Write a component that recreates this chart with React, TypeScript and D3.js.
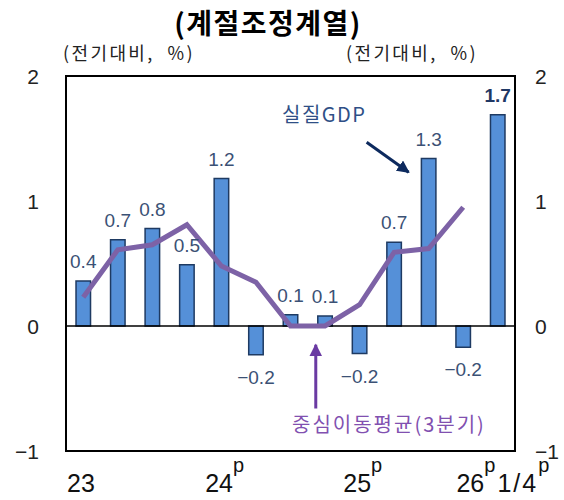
import React from "react";
import * as d3 from "d3";

const quarters = ["23Q1","23Q2","23Q3","23Q4","24Q1","24Q2","24Q3","24Q4","25Q1","25Q2","25Q3","25Q4","26Q1"];
const gdp = [0.36, 0.69, 0.78, 0.49, 1.18, -0.23, 0.09, 0.08, -0.22, 0.67, 1.34, -0.17, 1.69];
const gdpLabels = ["0.4","0.7","0.8","0.5","1.2","−0.2","0.1","0.1","−0.2","0.7","1.3","−0.2","1.7"];
const movingAvg = [0.23, 0.61, 0.65, 0.81, 0.48, 0.35, 0.0, 0.0, 0.17, 0.59, 0.62, 0.95];
const yTicks = [-1, 0, 1, 2];
const yTickLabels = ["−1", "0", "1", "2"];
const yearLabels = [
  { idx: 0, text: "23", sup: "" },
  { idx: 4, text: "24", sup: "p" },
  { idx: 8, text: "25", sup: "p" },
];
const lastParts = [{ text: "26", sup: "p" }, { text: "1/4", sup: "p" }];

const W = 564, H = 500;
const L = 66, R = 515, T = 76, B = 451;
const LATIN = "'Liberation Sans', Arial, 'Noto Sans CJK KR', sans-serif";
const KR = "'Noto Sans CJK KR', 'Liberation Sans', sans-serif";

export default function App() {
  const x = d3.scaleBand<string>().domain(quarters).range([L, R]).paddingInner(0.58).paddingOuter(0.29);
  const y = d3.scaleLinear().domain([-1, 2]).range([B, T]);
  const bw = x.bandwidth();
  const step = x.step();
  const cx = (i: number) => (x(quarters[i]) as number) + bw / 2;
  const line = d3.line<number>().x((_, i) => cx(i)).y((d) => y(d));

  const barFill = "#5590d8";
  const barStroke = "#1e3a62";
  const labelColor = "#3b5175";

  const gdpArrowStart = [cx(10) - 62, y(1.47)];
  const gdpArrowEnd = [cx(10) - 20, y(1.23)];
  const maArrowX = (cx(6) + cx(7)) / 2 + 8;
  const maArrowTip = y(-0.15);
  const maArrowTail = y(-0.66);

  return (
    <svg width={W} height={H} style={{ position: "absolute", left: 0, top: 0, background: "#fff" }}>
      <defs>
        <marker id="ah-navy" viewBox="0 0 10 10" refX="9" refY="5" markerWidth="4.2" markerHeight="4.2" orient="auto">
          <path d="M0,0 L10,5 L0,10 z" fill="#0d2a5e" />
        </marker>
        <marker id="ah-purple" viewBox="0 0 10 10" refX="9" refY="5" markerWidth="4.2" markerHeight="4.2" orient="auto">
          <path d="M0,0 L10,5 L0,10 z" fill="#6a3aa2" />
        </marker>
      </defs>

      <text x={268} y={34} textAnchor="middle" fontFamily={KR} fontWeight={700} fontSize={28} letterSpacing={1.5} fill="#000">
        (계절조정계열)
      </text>

      <text x={63} y={60} fontFamily={KR} fontSize={18} letterSpacing={2.4} fill="#222">{"(전기대비,\u00a0\u00a0%)"}</text>
      <text x={478} y={60} textAnchor="end" fontFamily={KR} fontSize={18} letterSpacing={2.4} fill="#222">{"(전기대비,\u00a0\u00a0%)"}</text>

      <rect x={L} y={T} width={R - L} height={B - T} fill="none" stroke="#000" strokeWidth={2} />

      {yTicks.map((t, i) => (
        <g key={t}>
          <text x={39} y={y(t)} dy="0.36em" textAnchor="end" fontFamily={LATIN} fontSize={21} fill="#222">{yTickLabels[i]}</text>
          <text x={535} y={y(t)} dy="0.36em" textAnchor="start" fontFamily={LATIN} fontSize={21} fill="#222">{yTickLabels[i]}</text>
        </g>
      ))}

      {gdp.map((v, i) => (
        <rect key={i} x={x(quarters[i])} y={y(Math.max(0, v))} width={bw} height={Math.abs(y(v) - y(0))}
          fill={barFill} stroke={barStroke} strokeWidth={1.5} />
      ))}

      <line x1={L} x2={R} y1={y(0)} y2={y(0)} stroke="#000" strokeWidth={1.6} />

      <path d={line(movingAvg) || ""} fill="none" stroke="#7d62a6" strokeWidth={5} strokeLinejoin="miter" />

      {gdp.map((v, i) => {
        const last = i === gdp.length - 1;
        return (
          <text key={i} x={cx(i)} y={v >= 0 ? y(v) - 13 : y(v) + 29} textAnchor="middle"
            fontFamily={LATIN} fontSize={19} fontWeight={last ? 700 : 400} fill={last ? "#1f3864" : labelColor}>
            {gdpLabels[i]}
          </text>
        );
      })}

      <text x={282} y={122} fontFamily={KR} fontSize={20} letterSpacing={1.5} fill="#2f4f86">실질GDP</text>
      <line x1={gdpArrowStart[0]} y1={gdpArrowStart[1]} x2={gdpArrowEnd[0]} y2={gdpArrowEnd[1]}
        stroke="#0d2a5e" strokeWidth={3} markerEnd="url(#ah-navy)" />

      <line x1={maArrowX} y1={maArrowTail} x2={maArrowX} y2={maArrowTip}
        stroke="#6a3aa2" strokeWidth={3} markerEnd="url(#ah-purple)" />
      <text x={292} y={432} fontFamily={KR} fontSize={20} letterSpacing={2} fill="#8150b0">중심이동평균(3분기)</text>

      {yearLabels.map((d) => (
        <text key={d.text} x={L + d.idx * step + 1} y={492} fontFamily={LATIN} fontSize={25} fill="#111">
          <tspan>{d.text}</tspan>
          {d.sup && <tspan dy={-20} fontSize={20}>{d.sup}</tspan>}
        </text>
      ))}
      <text x={L + 12 * step - 24} y={492} fontFamily={LATIN} fontSize={25} fill="#111">
        <tspan>{lastParts[0].text}</tspan>
        <tspan dy={-20} fontSize={20}>{lastParts[0].sup}</tspan>
      </text>
      <text x={L + 12 * step + 17} y={492} fontFamily={LATIN} fontSize={25} fill="#111">
        <tspan letterSpacing={2}>{lastParts[1].text}</tspan>
        <tspan dy={-20} fontSize={20}>{lastParts[1].sup}</tspan>
      </text>
    </svg>
  );
}
